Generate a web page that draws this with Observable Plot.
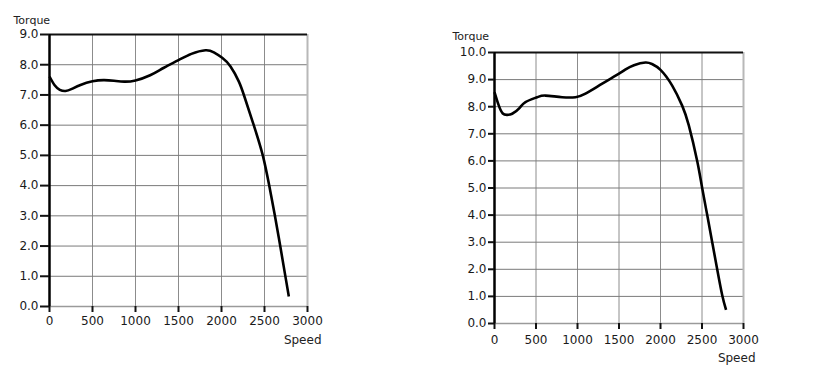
<!DOCTYPE html>
<html>
<head>
<meta charset="utf-8">
<script src="https://cdn.jsdelivr.net/npm/d3@7"></script>
<script src="https://cdn.jsdelivr.net/npm/@observablehq/plot@0.6"></script>
<style>
  html, body { margin: 0; padding: 0; background: #fff; }
  #wrap { position: relative; width: 813px; height: 386px; overflow: hidden; }
  #wrap svg { position: absolute; top: 0; }
</style>
</head>
<body>
<div id="wrap"></div>
<script>
// Chart 1 (left)
const speed1  = [0, 60, 120, 186, 260, 360, 500, 630, 750, 870, 1000, 1170, 1330, 1500, 1650, 1814, 1911, 2008, 2105, 2202, 2267, 2375, 2480, 2555, 2620, 2686, 2744, 2783];
const torque1 = [7.61, 7.32, 7.17, 7.13, 7.2, 7.33, 7.45, 7.49, 7.47, 7.44, 7.48, 7.65, 7.9, 8.15, 8.36, 8.48, 8.41, 8.23, 7.94, 7.44, 6.94, 6.0, 5.0, 4.0, 3.02, 1.95, 0.98, 0.33];
// Chart 2 (right)
const speed2  = [0, 52, 100, 150, 213, 300, 373, 514, 614, 815, 976, 1096, 1298, 1500, 1580, 1680, 1819, 1900, 2000, 2141, 2261, 2341, 2442, 2502, 2563, 2623, 2683, 2743, 2790];
const torque2 = [8.54, 8.04, 7.75, 7.7, 7.74, 7.95, 8.17, 8.35, 8.41, 8.35, 8.35, 8.48, 8.85, 9.22, 9.38, 9.53, 9.63, 9.57, 9.36, 8.78, 8.04, 7.31, 6.0, 5.0, 4.0, 3.0, 2.0, 1.05, 0.5];

const xTicks = [0, 500, 1000, 1500, 2000, 2500, 3000];
const yTicks1 = [0, 1, 2, 3, 4, 5, 6, 7, 8, 9];
const yTicks2 = [0, 1, 2, 3, 4, 5, 6, 7, 8, 9, 10];
const yTitle = "Torque";
const xTitle = "Speed";

function chart(o) {
  const data = o.speed.map((s, i) => ({speed: s, torque: o.torque[i]}));
  const yMax = o.yTicks[o.yTicks.length - 1];
  const svg = Plot.plot({
    width: o.width,
    height: 386,
    marginLeft: o.ml, marginTop: o.mt, marginRight: o.mr, marginBottom: o.mb,
    style: {fontFamily: "DejaVu Sans, Verdana, sans-serif", fontSize: "12px", color: "#1a1a1a", background: "transparent"},
    x: {domain: [0, 3000]},
    y: {domain: [0, yMax]},
    marks: [
      Plot.gridX(xTicks, {stroke: "#8c8c8c", strokeOpacity: 1, strokeWidth: 1}),
      Plot.gridY(o.yTicks, {stroke: "#7a7a7a", strokeOpacity: 1, strokeWidth: 1}),
      Plot.ruleX([3000], {stroke: "#b8b8b8", strokeWidth: 2}),
      Plot.ruleY([0], {stroke: "#9a9a9a", strokeWidth: 1.5}),
      Plot.ruleY([yMax], {stroke: "#111", strokeWidth: 2}),
      Plot.ruleX([0], {stroke: "#000", strokeWidth: 2.5}),
      Plot.axisY(o.yTicks, {tickFormat: d => d.toFixed(1), tickSize: o.ytick, tickPadding: o.ypad, strokeWidth: 2, stroke: "#111", label: null}),
      Plot.axisX(xTicks, {tickFormat: d => String(d), tickSize: 6, tickPadding: o.xpad, strokeWidth: 2, stroke: "#111", label: null}),
      Plot.line(data, {x: "speed", y: "torque", curve: "natural", stroke: "#000", strokeWidth: 2.6, strokeLinecap: "butt"}),
      Plot.text([yTitle], {frameAnchor: "top-left", text: d => d, dx: o.tdx, dy: o.tdy, textAnchor: "start", lineAnchor: "middle", fontSize: 11, fill: "#222"}),
      Plot.text([xTitle], {frameAnchor: "bottom-right", text: d => d, dx: o.sdx, dy: o.sdy, textAnchor: "end", lineAnchor: "middle", fontSize: 12, fill: "#222"})
    ]
  });
  svg.style.left = o.left + "px";
  document.getElementById("wrap").appendChild(svg);
}

chart({speed: speed1, torque: torque1, yTicks: yTicks1, left: 0, width: 330,
  ml: 49, mt: 34, mr: 23, mb: 80, ytick: 9, ypad: 2, xpad: 4,
  tdx: -36, tdy: -14, sdx: 14, sdy: 34});
chart({speed: speed2, torque: torque2, yTicks: yTicks2, left: 440, width: 330,
  ml: 54, mt: 52, mr: 27, mb: 63, ytick: 6, ypad: 2, xpad: 6,
  tdx: -42, tdy: -16, sdx: 12, sdy: 35});
</script>
</body>
</html>
